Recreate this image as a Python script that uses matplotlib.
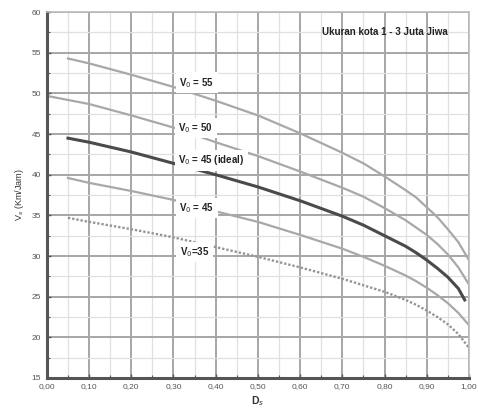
import numpy as np
import matplotlib
matplotlib.use("Agg")
import matplotlib.pyplot as plt
from matplotlib.ticker import MultipleLocator, FuncFormatter

plt.rcParams['font.family'] = ['Liberation Sans', 'DejaVu Sans']

# degree of saturation (x) and speed curves (y)
ds_a = [0.05, 0.10, 0.20, 0.30, 0.40, 0.50, 0.60, 0.70, 0.75, 0.80, 0.85,
        0.875, 0.90, 0.925, 0.95, 0.975, 1.00]
v55 = [54.3, 53.7, 52.3, 50.8, 49.1, 47.3, 45.1, 42.7, 41.4, 39.8, 38.1,
       37.2, 36.0, 34.8, 33.3, 31.7, 29.5]
v40 = [39.6, 39.0, 38.0, 36.9, 35.5, 34.2, 32.6, 30.9, 29.9, 28.8, 27.6,
       26.9, 26.1, 25.2, 24.2, 23.0, 21.5]
v35 = [34.7, 34.2, 33.3, 32.3, 31.1, 29.9, 28.6, 27.2, 26.4, 25.6, 24.6,
       24.0, 23.3, 22.5, 21.6, 20.4, 18.7]

ds_b = [0.00, 0.10, 0.20, 0.30, 0.40, 0.50, 0.60, 0.70, 0.75, 0.80, 0.85,
        0.875, 0.90, 0.925, 0.95, 0.975, 1.00]
v50 = [49.7, 48.7, 47.3, 45.8, 44.0, 42.3, 40.4, 38.4, 37.3, 35.9, 34.4,
       33.5, 32.6, 31.5, 30.2, 28.6, 26.5]

ds_c = [0.05, 0.10, 0.20, 0.30, 0.40, 0.50, 0.60, 0.70, 0.75, 0.80, 0.85,
        0.875, 0.90, 0.925, 0.95, 0.975, 0.99]
v45_ideal = [44.5, 44.0, 42.8, 41.4, 40.0, 38.5, 36.8, 34.9, 33.8, 32.5, 31.2,
             30.4, 29.5, 28.5, 27.4, 26.0, 24.6]

label_texts = ['V$_0$ = 55', 'V$_0$ = 50', 'V$_0$ = 45 (ideal)', 'V$_0$ = 45', 'V$_0$=35']
label_x = [0.355, 0.353, 0.39, 0.355, 0.35]
label_y = [51.3, 45.75, 41.8, 35.9, 30.5]

fig = plt.figure(figsize=(4.78, 4.19), dpi=100)
ax = fig.add_axes([0.098, 0.098, 0.883, 0.873])

# grid
ax.set_xlim(0, 1)
ax.set_ylim(15, 60)
ax.xaxis.set_major_locator(MultipleLocator(0.1))
ax.xaxis.set_minor_locator(MultipleLocator(0.05))
ax.yaxis.set_major_locator(MultipleLocator(5))
ax.yaxis.set_minor_locator(MultipleLocator(2.5))
ax.grid(which='major', color='#a6a6a6', linewidth=1.4, zorder=0)
ax.grid(which='minor', color='#e0e0e0', linewidth=0.9, zorder=0)
ax.set_axisbelow(True)

# curves
ax.plot(ds_a, v55, color='#a8a8a8', linewidth=1.6, zorder=2)
ax.plot(ds_b, v50, color='#a8a8a8', linewidth=1.6, zorder=2)
ax.plot(ds_c, v45_ideal, color='#4a4a4a', linewidth=2.2, zorder=3)
ax.plot(ds_a, v40, color='#a8a8a8', linewidth=1.6, zorder=2)
ax.plot(ds_a, v35, color='#959595', linewidth=1.7, linestyle=(0, (1, 0.8)), zorder=2)

for t, x, y in zip(label_texts, label_x, label_y):
    ax.text(x, y, t, fontsize=7, fontweight='bold', ha='center', va='center',
            color='#222222', zorder=4,
            bbox=dict(facecolor='white', edgecolor='none', pad=2.5))

ax.text(0.80, 57.6, 'Ukuran kota 1 - 3 Juta Jiwa', fontsize=7, fontweight='bold',
        ha='center', va='center', color='#222222')

# axes styling
fmt = FuncFormatter(lambda v, p: f'{v:.2f}'.replace('.', ','))
ax.xaxis.set_major_formatter(fmt)
ax.tick_params(axis='both', which='major', labelsize=6, colors='#555555',
               length=3, width=1, direction='in', pad=4)
ax.tick_params(axis='both', which='minor', length=2, width=0.8, direction='in',
               colors='#555555')
for s in ['left', 'bottom']:
    ax.spines[s].set_color('#555555')
    ax.spines[s].set_linewidth(2.2)
for s in ['top', 'right']:
    ax.spines[s].set_color('#bbbbbb')
    ax.spines[s].set_linewidth(1.2)

ax.set_xlabel('D$_s$', fontsize=7.5, fontweight='bold', color='#333333', labelpad=3)
ax.set_ylabel('V$_s$ (Km/Jam)', fontsize=6.5, color='#333333', labelpad=4)

fig.savefig('out.png', dpi=100)
